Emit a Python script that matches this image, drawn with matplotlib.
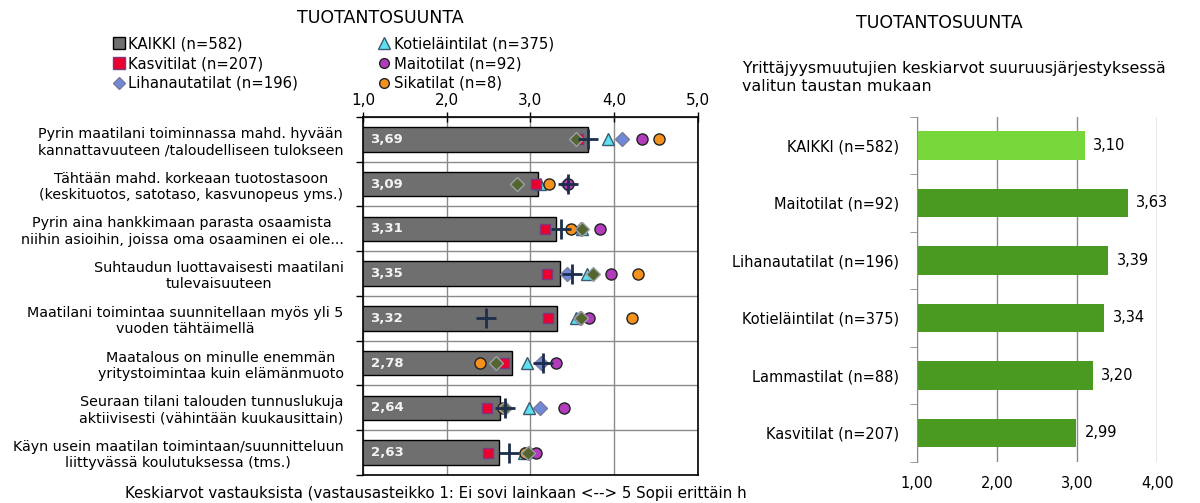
import matplotlib
matplotlib.use("Agg")
import matplotlib.pyplot as plt
from matplotlib.lines import Line2D
import numpy as np

plt.rcParams['font.family'] = ['DejaVu Sans']

# vasen kuvio: väittämät ja keskiarvot
vaittamat = [
    "Pyrin maatilani toiminnassa mahd. hyvään\nkannattavuuteen /taloudelliseen tulokseen",
    "Tähtään mahd. korkeaan tuotostasoon\n(keskituotos, satotaso, kasvunopeus yms.)",
    "Pyrin aina hankkimaan parasta osaamista\nniihin asioihin, joissa oma osaaminen ei ole...",
    "Suhtaudun luottavaisesti maatilani\ntulevaisuuteen",
    "Maatilani toimintaa suunnitellaan myös yli 5\nvuoden tähtäimellä",
    "Maatalous on minulle enemmän\nyritystoimintaa kuin elämänmuoto",
    "Seuraan tilani talouden tunnuslukuja\naktiivisesti (vähintään kuukausittain)",
    "Käyn usein maatilan toimintaan/suunnitteluun\nliittyvässä koulutuksessa (tms.)",
]
kaikki = [3.69, 3.09, 3.31, 3.35, 3.32, 2.78, 2.64, 2.63]
kasvitilat = [3.57, 3.07, 3.17, 3.20, 3.21, 2.69, 2.48, 2.49]
kotielaintilat = [3.93, 3.11, 3.62, 3.68, 3.54, 2.96, 2.98, 2.92]
maitotilat = [4.33, 3.45, 3.83, 3.96, 3.70, 3.30, 3.40, 3.07]
lihanautatilat = [4.09, 3.44, 3.60, 3.44, 3.59, 3.13, 3.11, 2.98]
sikatilat = [4.54, 3.22, 3.48, 4.28, 4.21, 2.40, 2.67, 2.94]
# sarjat joita ei ole selitteessä
muu_a = [3.55, 2.84, 3.62, 3.75, 3.61, 2.59, 2.70, 2.97]
muu_b = [3.69, 3.45, 3.37, 3.50, 2.47, 3.15, 2.70, 2.74]

x_ticks_left = [1.0, 2.0, 3.0, 4.0, 5.0]

# oikea kuvio
taustat = ["KAIKKI (n=582)", "Maitotilat (n=92)", "Lihanautatilat (n=196)",
           "Kotieläintilat (n=375)", "Lammastilat (n=88)", "Kasvitilat (n=207)"]
taustat_ka = [3.10, 3.63, 3.39, 3.34, 3.20, 2.99]
x_ticks_right = [1.0, 2.0, 3.0, 4.0]


def pilkku(v, n):
    return f"{v:.{n}f}".replace(".", ",")


fig = plt.figure(figsize=(12, 5.03), dpi=100)

# ---- vasen ----
ax = fig.add_axes([0.3025, 0.0557, 0.279, 0.7117])
y = np.arange(len(vaittamat))
ax.barh(y, kaikki, height=0.55, color="#6f6f6f", edgecolor="black", linewidth=1, zorder=2)
for yi, v in zip(y, kaikki):
    ax.text(1.09, yi, pilkku(v, 2), va="center", ha="left", color="#f4f4f4",
            fontsize=9.5, fontweight="bold", zorder=5)

sarjat = [
    (kotielaintilat, dict(marker="^", markersize=9, markerfacecolor="#5fe0ef", markeredgecolor="#3a5a70")),
    (lihanautatilat, dict(marker="D", markersize=7, markerfacecolor="#7088d8", markeredgecolor="#7a7a9a")),
    (kasvitilat, dict(marker="s", markersize=7.5, markerfacecolor="#ec0030", markeredgecolor="#7a3a80")),
    (maitotilat, dict(marker="o", markersize=8, markerfacecolor="#b23cbc", markeredgecolor="#222222")),
    (sikatilat, dict(marker="o", markersize=8, markerfacecolor="#f5921e", markeredgecolor="#222222")),
    (muu_a, dict(marker="D", markersize=7, markerfacecolor="#556530", markeredgecolor="#9aa0a8")),
    (muu_b, dict(marker="+", markersize=14, markeredgewidth=2, color="#1c2e4a")),
]
for vals, st in sarjat:
    ax.plot(vals, y, linestyle="none", zorder=4, **st)

ax.set_xlim(1, 5)
ax.set_ylim(len(vaittamat) - 0.5, -0.5)
ax.xaxis.tick_top()
ax.set_xticks(x_ticks_left)
ax.set_xticklabels([pilkku(v, 1) for v in x_ticks_left], fontsize=11)
ax.tick_params(axis="x", direction="inout", length=7, width=1, pad=3)
ax.set_yticks(y)
ax.set_yticklabels(vaittamat, fontsize=10.3)
for lab in ax.get_yticklabels():
    lab.set_multialignment("center")
ax.set_yticks(np.arange(-0.5, len(vaittamat)), minor=True)
ax.tick_params(axis="y", which="major", length=0, pad=14)
ax.tick_params(axis="y", which="minor", length=5, direction="out", width=1)
ax.grid(axis="x", color="#8a8a8a", linewidth=1, zorder=0)
ax.grid(axis="y", which="minor", color="#8a8a8a", linewidth=1, zorder=0)
ax.set_axisbelow(True)
for s in ax.spines.values():
    s.set_color("black")
    s.set_linewidth(1.2)

fig.text(0.317, 0.965, "TUOTANTOSUUNTA", ha="center", va="center", fontsize=12.5)
fig.text(0.104, 0.019, "Keskiarvot vastauksista (vastausasteikko 1: Ei sovi lainkaan <--> 5 Sopii erittäin h",
         ha="left", va="center", fontsize=10.8)

kahvat = [
    Line2D([], [], linestyle="none", marker="s", markersize=8, markerfacecolor="#6f6f6f", markeredgecolor="black"),
    Line2D([], [], linestyle="none", marker="s", markersize=8, markerfacecolor="#ec0030", markeredgecolor="#7a3a80"),
    Line2D([], [], linestyle="none", marker="D", markersize=6, markerfacecolor="#7088d8", markeredgecolor="#7a7a9a"),
    Line2D([], [], linestyle="none", marker="^", markersize=8, markerfacecolor="#5fe0ef", markeredgecolor="#3a5a70"),
    Line2D([], [], linestyle="none", marker="o", markersize=7, markerfacecolor="#b23cbc", markeredgecolor="#222222"),
    Line2D([], [], linestyle="none", marker="o", markersize=7, markerfacecolor="#f5921e", markeredgecolor="#222222"),
]
nimet = ["KAIKKI (n=582)", "Kasvitilat (n=207)", "Lihanautatilat (n=196)",
         "Kotieläintilat (n=375)", "Maitotilat (n=92)", "Sikatilat (n=8)"]
fig.legend(kahvat, nimet, ncol=2, loc="upper left", bbox_to_anchor=(0.089, 0.94),
           frameon=False, fontsize=10.7, handlelength=0.8, handletextpad=0.25,
           columnspacing=5.4, labelspacing=0.33, borderaxespad=0)

# ---- oikea ----
ax2 = fig.add_axes([0.764, 0.082, 0.2005, 0.686])
y2 = np.arange(len(taustat))
varit = ["#77d63a"] + ["#4a9a22"] * (len(taustat) - 1)
ax2.barh(y2, taustat_ka, height=0.5, color=varit, zorder=2)
for yi, v in zip(y2, taustat_ka):
    ax2.text(v + 0.1, yi, pilkku(v, 2), va="center", ha="left", fontsize=10.5)
ax2.set_xlim(1, 4)
ax2.set_ylim(len(taustat) - 0.5, -0.5)
ax2.set_xticks(x_ticks_right)
ax2.set_xticklabels([pilkku(v, 2) for v in x_ticks_right], fontsize=10.5)
ax2.tick_params(axis="x", length=0, pad=10)
ax2.set_yticks(y2)
ax2.set_yticklabels(taustat, fontsize=10.5)
ax2.set_yticks(np.arange(-0.5, len(taustat)), minor=True)
ax2.tick_params(axis="y", which="major", length=0, pad=13)
ax2.tick_params(axis="y", which="minor", length=5, direction="out", color="#8a8a8a")
ax2.grid(axis="x", color="#8a8a8a", linewidth=1, zorder=0)
ax2.set_axisbelow(True)
for k in ["top", "right", "bottom"]:
    ax2.spines[k].set_visible(False)
ax2.spines["left"].set_color("#8a8a8a")

fig.text(0.7825, 0.955, "TUOTANTOSUUNTA", ha="center", va="center", fontsize=12.5)
fig.text(0.618, 0.846, "Yrittäjyysmuutujien keskiarvot suuruusjärjestyksessä\nvalitun taustan mukaan",
         ha="left", va="center", fontsize=11.4, linespacing=1.3)

fig.savefig("out.png", dpi=100)
